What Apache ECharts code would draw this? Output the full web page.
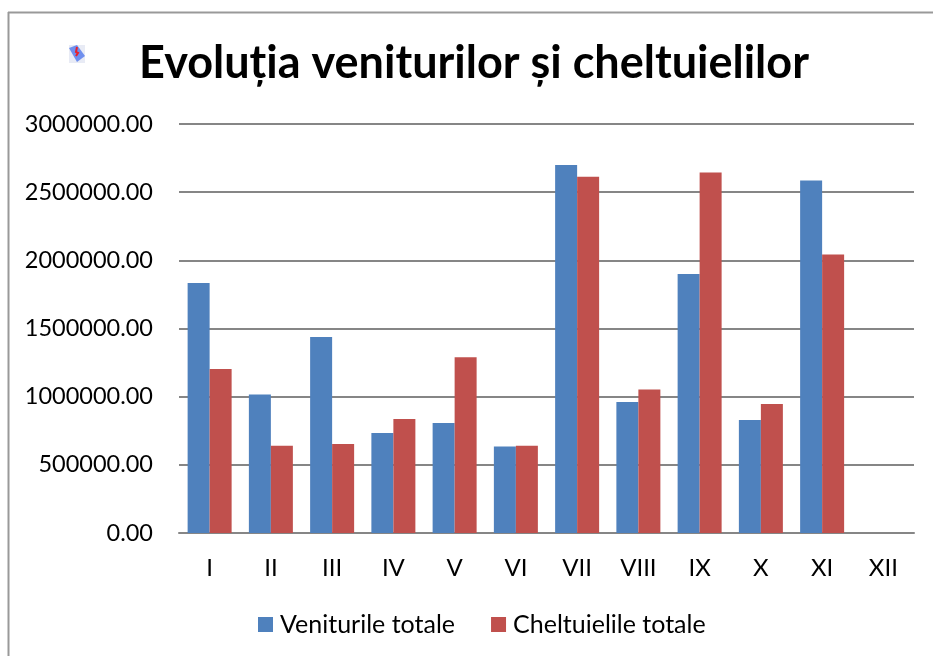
<!DOCTYPE html>
<html>
<head>
<meta charset="utf-8">
<style>
html, body { margin: 0; padding: 0; background: #fff; }
#main { width: 933px; height: 656px; }
</style>
<script src="https://cdn.jsdelivr.net/npm/echarts@6/dist/echarts.min.js"></script>
</head>
<body>
<div id="main"></div>
<script>
var months = ['I', 'II', 'III', 'IV', 'V', 'VI', 'VII', 'VIII', 'IX', 'X', 'XI', 'XII'];
var venituri = [1833000, 1015000, 1437000, 733000, 806000, 635000, 2700000, 960000, 1900000, 829000, 2585000, null];
var cheltuieli = [1203000, 640000, 652000, 836000, 1290000, 640000, 2613000, 1053000, 2645000, 946000, 2043000, null];

var chartFont = 'Lato';
var myChart = echarts.init(document.getElementById('main'));

var option = {
    animation: false,
    backgroundColor: '#fff',
    textStyle: { fontFamily: chartFont },
    title: {
        text: 'Evoluția veniturilor și cheltuielilor',
        left: 469,
        top: 36,
        textAlign: 'center',
        textStyle: { fontFamily: chartFont, fontSize: 45, fontWeight: 'bold', color: '#000' }
    },
    legend: {
        left: 258,
        top: 612,
        padding: 0,
        itemWidth: 15,
        itemHeight: 15,
        itemGap: 36,
        icon: 'rect',
        textStyle: { fontFamily: chartFont, fontSize: 25, color: '#000', padding: [0, 0, 0, 2] }
    },
    grid: { left: 179, right: 19, top: 124, bottom: 123 },
    xAxis: {
        type: 'category',
        data: months,
        axisLine: { lineStyle: { color: '#868686', width: 2 } },
        axisTick: { show: false },
        axisLabel: { fontSize: 24, color: '#000', margin: 23 }
    },
    yAxis: {
        type: 'value',
        min: 0,
        max: 3000000,
        interval: 500000,
        axisLine: { show: false },
        axisTick: { show: false },
        splitLine: { lineStyle: { color: '#868686', width: 2 } },
        axisLabel: {
            fontSize: 23.5,
            color: '#000',
            margin: 26,
            formatter: function (v) { return v.toFixed(2); }
        }
    },
    series: [
        {
            name: 'Veniturile totale',
            type: 'bar',
            data: venituri,
            barGap: 0,
            barWidth: 22,
            itemStyle: { color: '#4F81BD' }
        },
        {
            name: 'Cheltuielile totale',
            type: 'bar',
            data: cheltuieli,
            barWidth: 22,
            itemStyle: { color: '#C0504D' }
        }
    ],
    graphic: [
        // chenarul imaginii, sus si in stanga
        { type: 'line', shape: { x1: 8.5, y1: 12, x2: 8.5, y2: 656 }, style: { stroke: '#999', lineWidth: 2 } },
        { type: 'line', shape: { x1: 8, y1: 12.5, x2: 933, y2: 12.5 }, style: { stroke: '#999', lineWidth: 2 } },
        // iconita mica de langa titlu
        { type: 'rect', shape: { x: 69, y: 45, width: 16, height: 18 }, style: { fill: '#e8ebf5' } },
        { type: 'polygon', shape: { points: [[69, 48], [77, 45], [85, 56], [77, 62]] }, style: { fill: '#6f8fee' } },
        { type: 'polyline', shape: { points: [[77, 47], [76, 52], [78, 53], [76, 56]] }, style: { stroke: '#e8202a', lineWidth: 2, fill: null } }
    ]
};

option && myChart.setOption(option);
</script>
</body>
</html>
